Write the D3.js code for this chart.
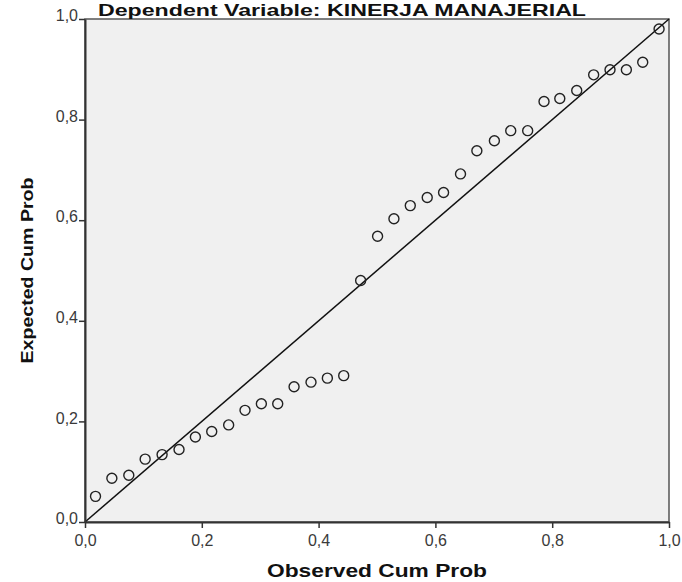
<!DOCTYPE html>
<html>
<head>
<meta charset="utf-8">
<script src="https://cdn.jsdelivr.net/npm/d3@7"></script>
<style>
  body { margin: 0; background: #fff; }
  text { font-family: "Liberation Sans", Arial, sans-serif; }
</style>
</head>
<body>
<div id="chart"></div>
<script>
// observed vs expected cumulative probability
const observed = [0.018, 0.046, 0.075, 0.103, 0.132, 0.161, 0.189, 0.217, 0.246, 0.274, 0.302, 0.330,
    0.358, 0.387, 0.415, 0.443, 0.472, 0.501, 0.529, 0.557, 0.586, 0.614, 0.643, 0.671, 0.701, 0.729,
    0.758, 0.786, 0.813, 0.842, 0.871, 0.899, 0.927, 0.955, 0.983]
const expected = [0.051, 0.087, 0.093, 0.125, 0.134, 0.144, 0.169, 0.180, 0.193, 0.222, 0.235, 0.235,
    0.269, 0.278, 0.286, 0.291, 0.480, 0.568, 0.603, 0.629, 0.645, 0.655, 0.692, 0.738, 0.758, 0.778,
    0.778, 0.836, 0.842, 0.858, 0.889, 0.899, 0.899, 0.914, 0.980]
const ticks = [0, 0.2, 0.4, 0.6, 0.8, 1.0]
const title = 'Dependent Variable: KINERJA MANAJERIAL'
const xLabel = 'Observed Cum Prob'
const yLabel = 'Expected Cum Prob'

const W = 682, H = 582
const margin = {top: 19, right: 13, bottom: 60, left: 85}
const width = W - margin.left - margin.right
const height = H - margin.top - margin.bottom

const svg = d3.select('#chart').append('svg')
    .attr('width', W)
    .attr('height', H)

const x = d3.scaleLinear().domain([0, 1]).range([0, width])
const y = d3.scaleLinear().domain([0, 1]).range([height, 0])
const fmt = d => d3.format('.1f')(d).replace('.', ',')

const g = svg.append('g')
    .attr('transform', `translate(${margin.left},${margin.top})`)

g.append('rect')
    .attr('width', width)
    .attr('height', height)
    .attr('fill', '#f0f0f0')
    .attr('stroke', '#555')
    .attr('stroke-width', 1.5)

// reference line
g.append('line')
    .attr('x1', x(0)).attr('y1', y(0))
    .attr('x2', x(1)).attr('y2', y(1))
    .attr('stroke', '#111')
    .attr('stroke-width', 1.5)

const pts = observed.map((d, i) => ({o: d, e: expected[i]}))
g.selectAll('circle.pt')
    .data(pts)
    .enter().append('circle')
    .attr('class', 'pt')
    .attr('cx', d => x(d.o))
    .attr('cy', d => y(d.e))
    .attr('r', 5)
    .attr('fill', 'none')
    .attr('stroke', '#222')
    .attr('stroke-width', 1.4)

const xAxis = g.append('g')
    .attr('transform', `translate(0,${height})`)
    .call(d3.axisBottom(x).tickValues(ticks).tickFormat(fmt).tickSize(6).tickSizeOuter(0))
const yAxis = g.append('g')
    .call(d3.axisLeft(y).tickValues(ticks).tickFormat(fmt).tickSize(6).tickSizeOuter(0))

;[xAxis, yAxis].forEach(a => {
    a.attr('font-size', 16).attr('font-family', '"Liberation Sans", Arial, sans-serif')
    a.select('.domain').attr('stroke', '#333').attr('stroke-width', 2)
    a.selectAll('.tick line').attr('stroke', '#333').attr('stroke-width', 1.5)
    a.selectAll('.tick text').attr('fill', '#3a3a3a')
})
xAxis.selectAll('.tick text').attr('dy', '0.95em')
yAxis.selectAll('.tick text').attr('x', -7).attr('dy', '0.1em')

svg.append('text')
    .attr('x', 342)
    .attr('y', 16)
    .attr('text-anchor', 'middle')
    .attr('font-weight', 'bold')
    .attr('font-size', '17px')
    .attr('textLength', 488)
    .attr('lengthAdjust', 'spacingAndGlyphs')
    .attr('fill', '#111')
    .text(title)

svg.append('text')
    .attr('x', margin.left + width / 2)
    .attr('y', 577)
    .attr('text-anchor', 'middle')
    .attr('font-weight', 'bold')
    .attr('font-size', '19px')
    .attr('textLength', 220)
    .attr('lengthAdjust', 'spacingAndGlyphs')
    .attr('fill', '#111')
    .text(xLabel)

svg.append('text')
    .attr('transform', `translate(33,${margin.top + height / 2}) rotate(-90)`)
    .attr('text-anchor', 'middle')
    .attr('font-weight', 'bold')
    .attr('font-size', '17px')
    .attr('textLength', 186)
    .attr('lengthAdjust', 'spacingAndGlyphs')
    .attr('fill', '#111')
    .text(yLabel)
</script>
</body>
</html>
